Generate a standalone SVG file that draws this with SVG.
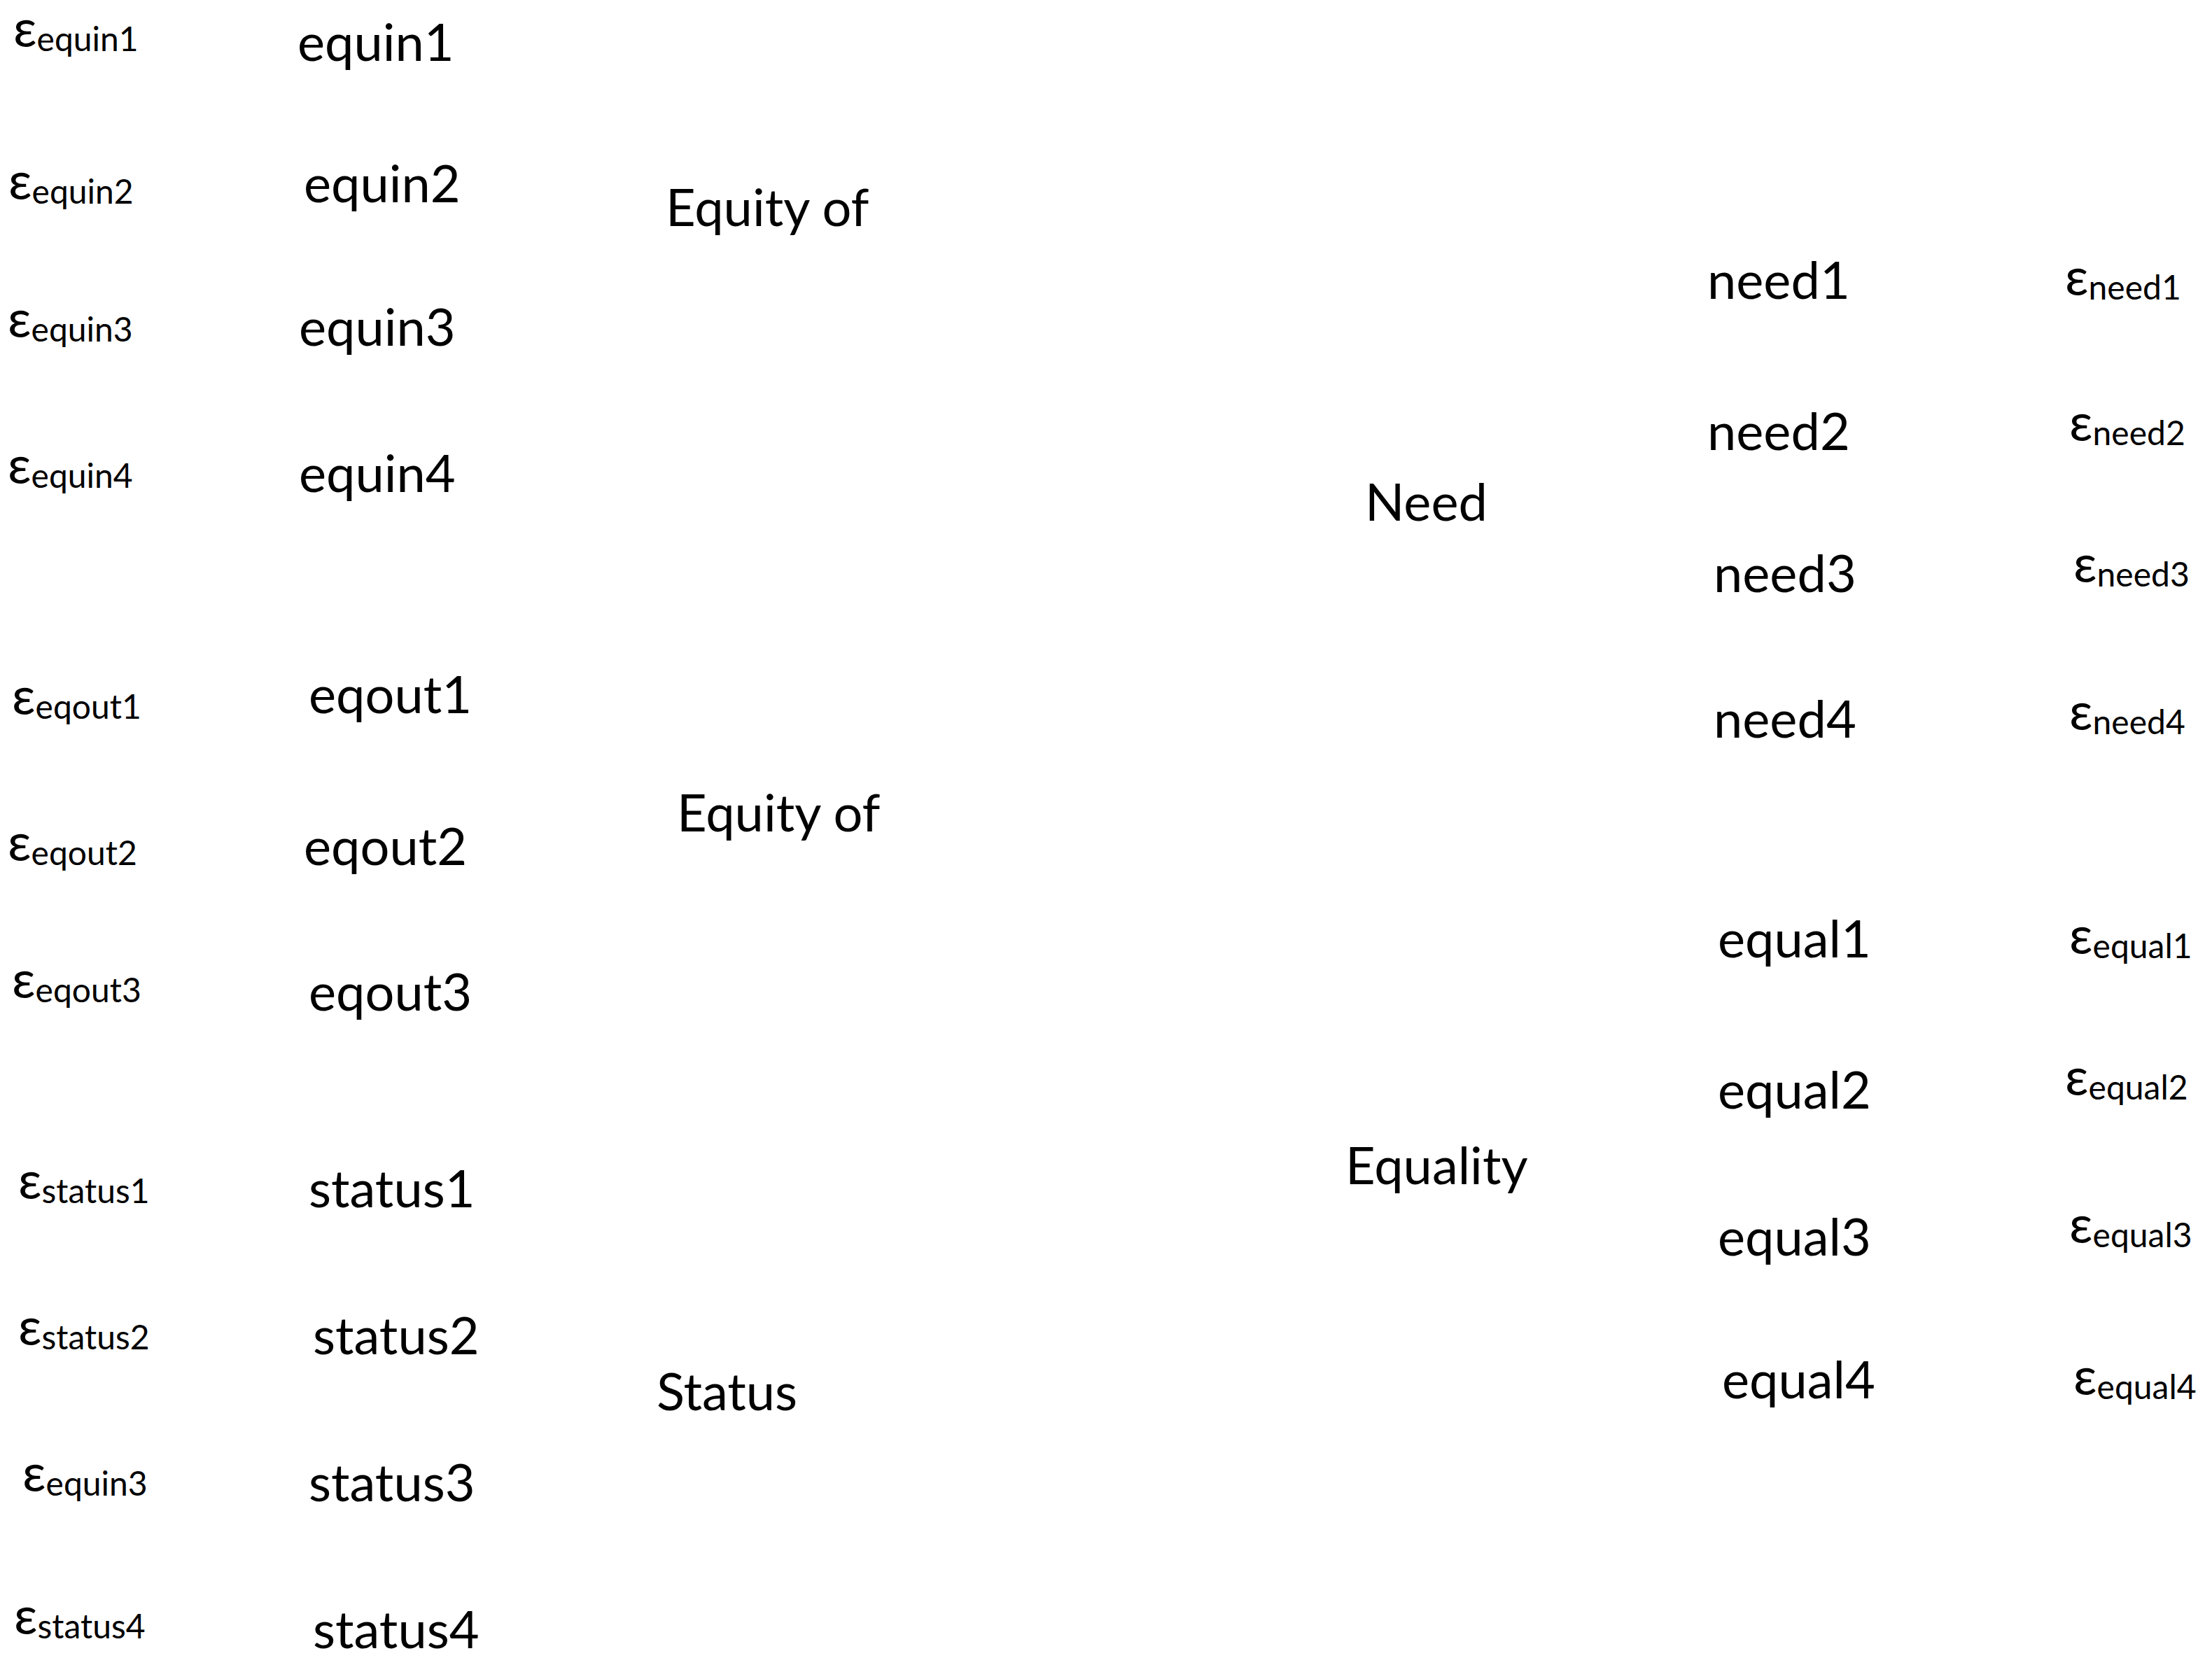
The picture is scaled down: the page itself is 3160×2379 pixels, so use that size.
<svg xmlns="http://www.w3.org/2000/svg" width="3160" height="2379" viewBox="0 0 3160 2379">
<style>
text{font-family:Lato,"Noto Sans","DejaVu Sans",sans-serif;fill:#000}
.m{font-size:74px}
.e{font-size:74px}
.s{font-size:48px}
</style>
<rect width="3160" height="2379" fill="#fff"/>
<g id="connectors"></g>
<g id="err-equin1"><text class="e" x="19" y="67">ε<tspan class="s" dy="6">equin1</tspan></text></g>
<g id="err-equin2"><text class="e" x="12" y="285">ε<tspan class="s" dy="6">equin2</tspan></text></g>
<g id="err-equin3"><text class="e" x="11" y="482">ε<tspan class="s" dy="6">equin3</tspan></text></g>
<g id="err-equin4"><text class="e" x="11" y="691">ε<tspan class="s" dy="6">equin4</tspan></text></g>
<g id="err-eqout1"><text class="e" x="17" y="1021">ε<tspan class="s" dy="6">eqout1</tspan></text></g>
<g id="err-eqout2"><text class="e" x="11" y="1230">ε<tspan class="s" dy="6">eqout2</tspan></text></g>
<g id="err-eqout3"><text class="e" x="17" y="1426">ε<tspan class="s" dy="6">eqout3</tspan></text></g>
<g id="err-status1"><text class="e" x="26" y="1713">ε<tspan class="s" dy="6">status1</tspan></text></g>
<g id="err-status2"><text class="e" x="26" y="1922">ε<tspan class="s" dy="6">status2</tspan></text></g>
<g id="err-status3"><text class="e" x="32" y="2131">ε<tspan class="s" dy="6">equin3</tspan></text></g>
<g id="err-status4"><text class="e" x="20" y="2335">ε<tspan class="s" dy="6">status4</tspan></text></g>
<g id="equin1"><text class="m" x="425" y="87">equin1</text></g>
<g id="equin2"><text class="m" x="434" y="289">equin2</text></g>
<g id="equin3"><text class="m" x="427" y="494">equin3</text></g>
<g id="equin4"><text class="m" x="427" y="703">equin4</text></g>
<g id="eqout1"><text class="m" x="441" y="1019">eqout1</text></g>
<g id="eqout2"><text class="m" x="434" y="1236">eqout2</text></g>
<g id="eqout3"><text class="m" x="441" y="1444">eqout3</text></g>
<g id="status1"><text class="m" x="441" y="1725">status1</text></g>
<g id="status2"><text class="m" x="447" y="1935">status2</text></g>
<g id="status3"><text class="m" x="441" y="2145">status3</text></g>
<g id="status4"><text class="m" x="447" y="2355">status4</text></g>
<g id="equity-input"><text class="m" x="951" y="323">Equity of</text></g>
<g id="equity-output"><text class="m" x="967" y="1188">Equity of</text></g>
<g id="status"><text class="m" x="938" y="2015">Status</text></g>
<g id="need"><text class="m" x="1950" y="744">Need</text></g>
<g id="equality"><text class="m" x="1922" y="1692">Equality</text></g>
<g id="need1"><text class="m" x="2439" y="427">need1</text></g>
<g id="need2"><text class="m" x="2439" y="643">need2</text></g>
<g id="need3"><text class="m" x="2448" y="846">need3</text></g>
<g id="need4"><text class="m" x="2448" y="1054">need4</text></g>
<g id="equal1"><text class="m" x="2454" y="1368">equal1</text></g>
<g id="equal2"><text class="m" x="2454" y="1584">equal2</text></g>
<g id="equal3"><text class="m" x="2454" y="1794">equal3</text></g>
<g id="equal4"><text class="m" x="2460" y="1998">equal4</text></g>
<g id="err-need1"><text class="e" x="2950" y="422">ε<tspan class="s" dy="6">need1</tspan></text></g>
<g id="err-need2"><text class="e" x="2956" y="630">ε<tspan class="s" dy="6">need2</tspan></text></g>
<g id="err-need3"><text class="e" x="2962" y="832">ε<tspan class="s" dy="6">need3</tspan></text></g>
<g id="err-need4"><text class="e" x="2956" y="1043">ε<tspan class="s" dy="6">need4</tspan></text></g>
<g id="err-equal1"><text class="e" x="2956" y="1363">ε<tspan class="s" dy="6">equal1</tspan></text></g>
<g id="err-equal2"><text class="e" x="2950" y="1565">ε<tspan class="s" dy="6">equal2</tspan></text></g>
<g id="err-equal3"><text class="e" x="2956" y="1776">ε<tspan class="s" dy="6">equal3</tspan></text></g>
<g id="err-equal4"><text class="e" x="2962" y="1993">ε<tspan class="s" dy="6">equal4</tspan></text></g>
</svg>
